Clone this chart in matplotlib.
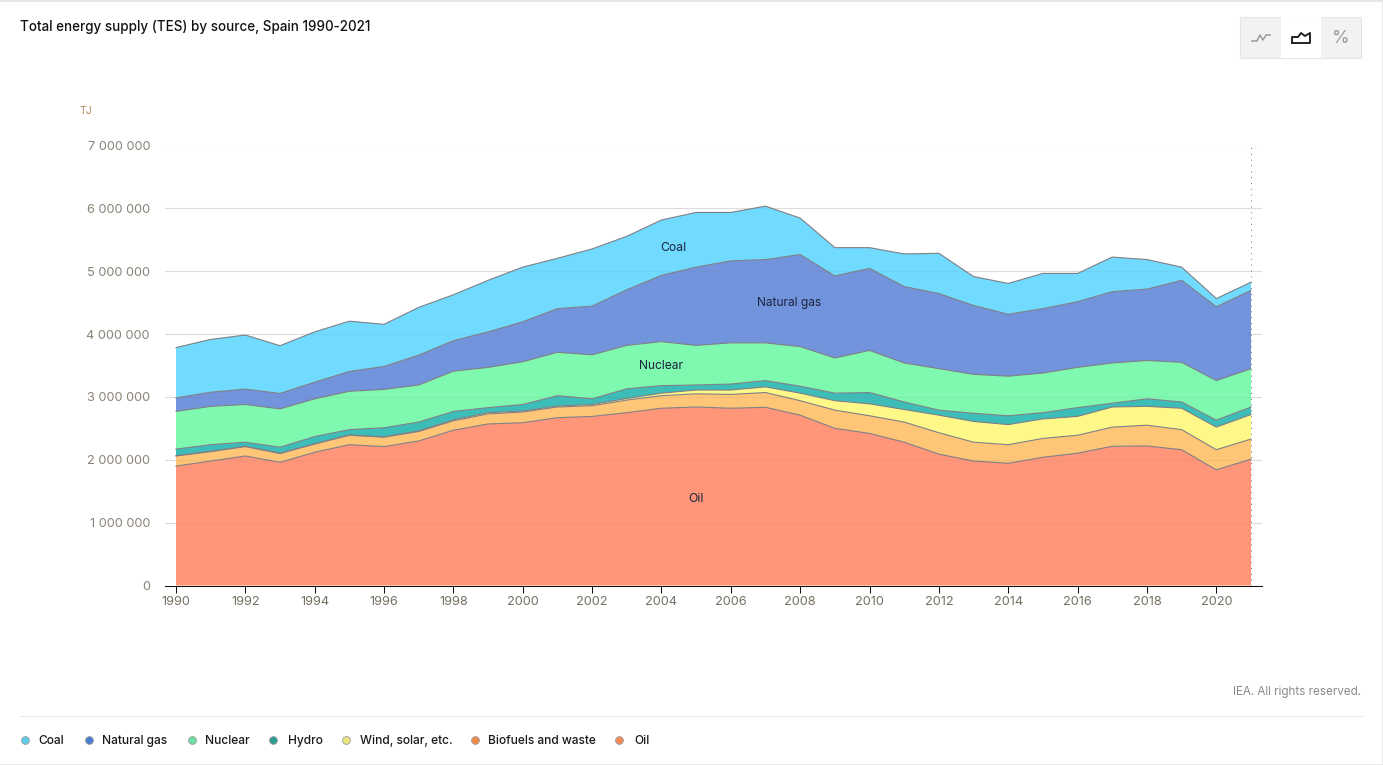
import matplotlib
matplotlib.use("Agg")
import matplotlib.pyplot as plt
from matplotlib.lines import Line2D
from matplotlib.patches import Rectangle
import numpy as np

matplotlib.rcParams['font.family'] = ['Inter', 'DejaVu Sans']

W, H = 1383, 765

years = list(range(1990, 2022))

# values in thousand TJ, bottom of the stack first
oil = [1900, 1980, 2060, 1960, 2120, 2240, 2210, 2300, 2470, 2570, 2590, 2670, 2690, 2750, 2820, 2840,
       2820, 2835, 2710, 2500, 2420, 2280, 2090, 1980, 1945, 2040, 2105, 2215, 2220, 2160, 1840, 2010]
biofuels = [160, 150, 150, 140, 130, 150, 150, 150, 150, 160, 170, 170, 170, 200, 200, 210,
            220, 235, 230, 290, 280, 320, 340, 300, 295, 300, 285, 305, 330, 320, 320, 320]
wind_solar = [5, 5, 5, 5, 5, 5, 5, 10, 15, 20, 15, 15, 20, 25, 40, 60,
              70, 90, 120, 150, 190, 200, 280, 330, 320, 310, 300, 320, 300, 340, 360, 390]
hydro = [105, 105, 65, 95, 115, 85, 145, 140, 135, 80, 105, 165, 90, 155, 120, 80,
         95, 100, 110, 120, 180, 120, 80, 130, 140, 100, 140, 60, 120, 100, 110, 120]
nuclear = [600, 610, 600, 610, 600, 610, 610, 590, 640, 640, 680, 690, 700, 690, 700, 630,
           655, 600, 630, 560, 670, 620, 660, 620, 630, 630, 640, 640, 610, 630, 630, 610]
natural_gas = [215, 225, 245, 245, 265, 315, 365, 475, 485, 565, 635, 695, 775, 885, 1055, 1245,
               1305, 1325, 1465, 1305, 1305, 1215, 1195, 1095, 985, 1025, 1045, 1135, 1135, 1305, 1175, 1245]
coal = [800, 840, 860, 760, 800, 800, 670, 760, 730, 820, 870, 800, 910, 850, 880, 870,
        770, 850, 580, 450, 330, 520, 640, 460, 490, 560, 450, 550, 470, 210, 130, 130]

stack_colors = ["#ff9679", "#ffc677", "#fdf888", "#3dbdb8", "#80f9b0", "#7294dc", "#70dbff"]

legend_labels = ["Coal", "Natural gas", "Nuclear", "Hydro", "Wind, solar, etc.", "Biofuels and waste", "Oil"]
legend_colors = ["#5fcdea", "#4a7fd0", "#6fe0a5", "#2f9c90", "#e8e57c", "#f08a4b", "#f58a55"]

y_ticks = [0, 1000, 2000, 3000, 4000, 5000, 6000, 7000]
y_tick_labels = ["0", "1 000 000", "2 000 000", "3 000 000", "4 000 000", "5 000 000", "6 000 000", "7 000 000"]
x_ticks = list(range(1990, 2021, 2))

fig = plt.figure(figsize=(W / 100, H / 100), dpi=100)


def px(x, y):
    return x / W, 1 - y / H


# plot box in pixels
left, right, top, bottom = 165, 1262, 145.5, 585.5
ax = fig.add_axes([left / W, 1 - bottom / H, (right - left) / W, (bottom - top) / H])
px_per_year = (1251 - 176) / 31
ax.set_xlim(1990 - (176 - left) / px_per_year, 2021 + (right - 1251) / px_per_year)
ax.set_ylim(0, 7000)

layers = [oil, biofuels, wind_solar, hydro, nuclear, natural_gas, coal]
ax.stackplot(years, *layers, colors=stack_colors, linewidth=0, zorder=2)
# only the top of each band gets an outline
for tops in np.cumsum(layers, axis=0):
    ax.plot(years, tops, color="#7f7f86", linewidth=0.8, zorder=3)

ax.set_yticks(y_ticks)
ax.set_yticklabels(y_tick_labels)
ax.set_xticks(x_ticks)
ax.grid(axis="y", color="#e6e6e6", linewidth=0.75, zorder=1)
for y in y_ticks[1:]:
    ax.axhline(y, color="#808080", alpha=0.10, linewidth=0.75, zorder=3)
ax.tick_params(axis="y", length=0, pad=10.8, labelsize=9.2, labelcolor="#8a8478")
ax.tick_params(axis="x", length=5, width=0.75, color="#111111", pad=2.5, labelsize=9.2, labelcolor="#766f63")
for s in ["top", "right", "left"]:
    ax.spines[s].set_visible(False)
ax.spines["bottom"].set_color("#111111")
ax.spines["bottom"].set_linewidth(0.75)
ax.vlines(2021, 0, 7000, color="#777777", linewidth=0.7, linestyles=(0, (1, 5)), zorder=4)

# area labels
ax.text(2004.33, 5370, "Coal", ha="center", va="center", fontsize=8.8, color="#1c2440", zorder=5)
ax.text(2007.67, 4495, "Natural gas", ha="center", va="center", fontsize=8.6, color="#1c2440", zorder=5)
ax.text(2004, 3493, "Nuclear", ha="center", va="center", fontsize=8.7, color="#1c2440", zorder=5)
ax.text(2005, 1377, "Oil", ha="center", va="center", fontsize=8.8, color="#1c2440", zorder=5)

# title and unit
fig.text(*px(20, 27), "Total energy supply (TES) by source, Spain 1990-2021",
         fontsize=9.65, fontweight="medium", color="#111111", va="center")
fig.text(*px(80, 111), "TJ", fontsize=7.6, color="#b08a5e", va="center")
fig.text(*px(1361, 692), "IEA. All rights reserved.", fontsize=8.4, color="#8a8a8a", ha="right", va="center")

# frame lines
fig.add_artist(Line2D([0, 1], [1 - 0.5 / H] * 2, color="#e6e6e6", linewidth=1.4))
fig.add_artist(Line2D([0, 1], [1 - 764.5 / H] * 2, color="#e6e6e6", linewidth=1.2))
fig.add_artist(Line2D([1382.5 / W] * 2, [0, 1], color="#e6e6e6", linewidth=1.2))
fig.add_artist(Line2D([20 / W, 1362 / W], [1 - 715.5 / H] * 2, color="#e6e6e6", linewidth=0.75))

# legend
text_x = [38, 102, 205, 288, 360, 488, 634]
dot_x = [25, 88.5, 191.5, 273, 345.5, 475, 619]
for dx, tx, lab, col in zip(dot_x, text_x, legend_labels, legend_colors):
    fig.add_artist(Line2D([dx / W], [1 - 740 / H], marker="o", markersize=5.6, color=col,
                          markeredgecolor="#9a9a9a", markeredgewidth=0.6, linestyle="none"))
    fig.text(*px(tx, 741), lab, fontsize=8.6, fontweight="medium", color="#1a1a1a", va="center")

# chart type buttons
fig.add_artist(Rectangle(px(1240, 58), 121 / W, 41 / H, facecolor="#f2f2f2", edgecolor="#e4e4e4", linewidth=0.75))
fig.add_artist(Rectangle(px(1281, 57.5), 40 / W, 40 / H, facecolor="white", edgecolor="none"))


def icon(xs, ys, col, lw):
    fig.add_artist(Line2D([x / W for x in xs], [1 - y / H for y in ys], color=col, linewidth=lw))


icon([1252, 1257, 1260, 1263, 1266, 1270], [41, 41, 35, 40, 35, 35], "#999999", 1.1)
icon([1292, 1292, 1298, 1301, 1305, 1310, 1310, 1292],
     [43, 37, 37, 33, 36, 33, 43, 43], "#222222", 1.4)
fig.text(*px(1340.5, 38.5), "%", fontsize=13, color="#999999", ha="center", va="center")

fig.savefig("out.png", dpi=100)
